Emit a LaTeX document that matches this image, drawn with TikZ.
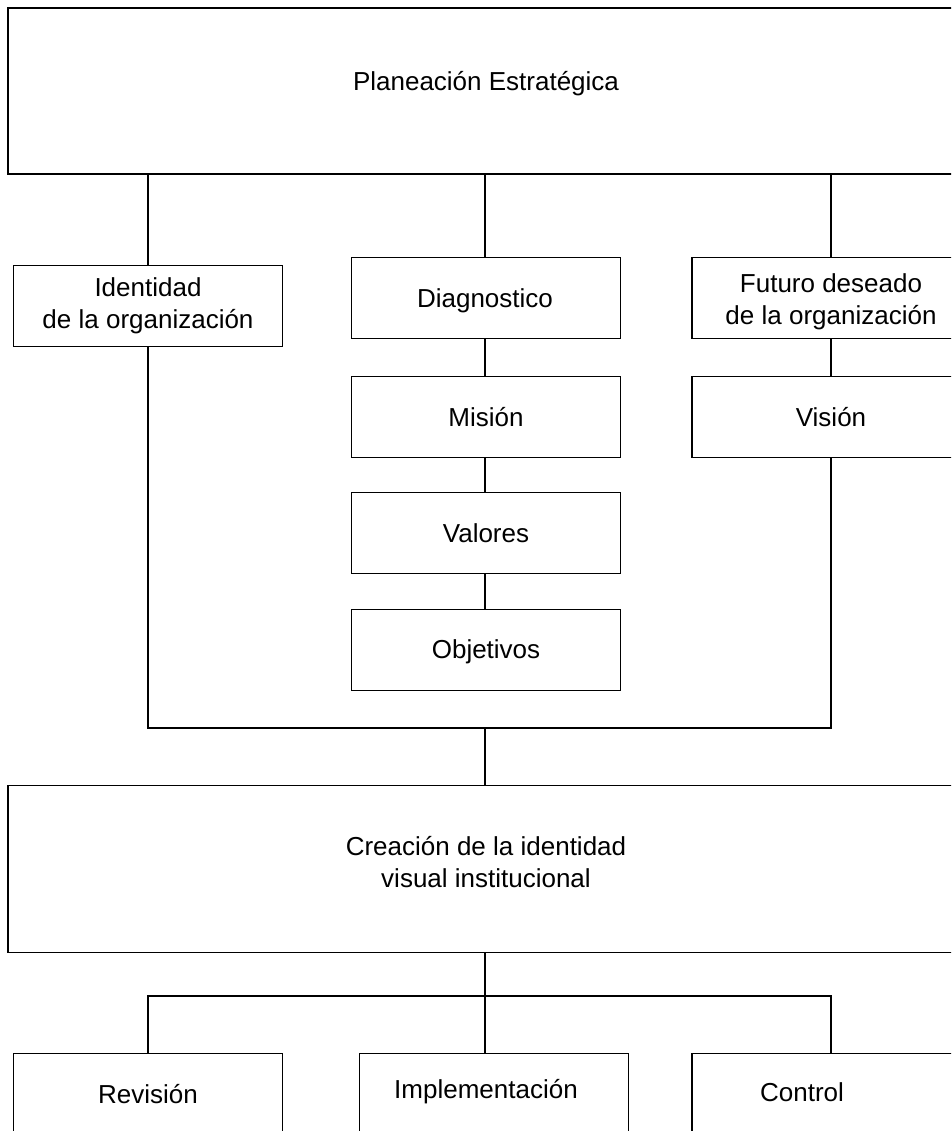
\documentclass[tikz,border=0pt]{standalone}
\usepackage{fontspec}
\setmainfont{Liberation Sans}
\usepackage{xcolor}
\tikzset{
  txt/.style = {align = center, inner sep = 0pt, font = \fontsize{26}{32}\selectfont},
  box/.style = {txt, draw, rectangle, line width = 1.2pt, minimum width = 269pt, minimum height = 81pt},
  widebox/.style = {box, minimum width = 278pt},
  bigbox/.style = {box, minimum width = 958pt, minimum height = 166pt},
  link/.style = {line width = 1.2pt}
}

\begin{document}
\begin{tikzpicture}[x = 1pt, y = -1pt]
        \useasboundingbox (0, 0) rectangle (951, 1131);
        \clip (0, 0) rectangle (951, 1131);

        % Nodes
        \node [bigbox] (plan) at (487, 91) {};
        \node [box] (identidad) at (148, 306) {Identidad\\de la organización};
        \node [box] (diagnostico) at (486, 298) {};
        \node [widebox] (futuro) at (831, 298) {};
        \node [box] (mision) at (486, 417) {Misión};
        \node [widebox] (vision) at (831, 417) {Visión};
        \node [box] (valores) at (486, 533) {Valores};
        \node [box] (objetivos) at (486, 650) {};
        \node [bigbox, minimum height = 167pt] (creacion) at (487, 869) {};
        \node [box] (revision) at (148, 1094) {Revisión};
        \node [box] (implementacion) at (494, 1094) {};
        \node [widebox] (control) at (831, 1094) {};

        % Texts off the centre of their box
        \node [txt] (plantxt) at (486, 84) {Planeación Estratégica};
        \node [txt] (diagnosticotxt) at (485, 301) {Diagnostico};
        \node [txt] (futurotxt) at (831, 302) {Futuro deseado\\de la organización};
        \node [txt] (objetivostxt) at (486, 652) {Objetivos};
        \node [txt] (creaciontxt) at (486, 862) {Creación de la identidad\\visual institucional};
        \node [txt] (implementaciontxt) at (486, 1092) {Implementación};
        \node [txt] (controltxt) at (802, 1092) {Control};

        % Joints
        \coordinate (join) at (485, 728);
        \coordinate (split) at (485, 996);

        % Draw the links
        \draw [link] (plan.south -| identidad.north) -- (identidad.north);
        \draw [link] (plan.south -| join) -- (join |- diagnostico.north);
        \draw [link] (plan.south -| futuro.north) -- (futuro.north);
        \draw [link] (join |- diagnostico.south) -- (join |- mision.north);
        \draw [link] (join |- mision.south) -- (join |- valores.north);
        \draw [link] (join |- valores.south) -- (join |- objetivos.north);
        \draw [link] (futuro.south) -- (vision.north);
        \draw [link] (identidad.south) |- (join) -| (vision.south);
        \draw [link] (join) -- (join |- creacion.north);
        \draw [link] (split |- creacion.south) -- (split |- implementacion.north);
        \draw [link] (revision.north) |- (split) -| (control.north);

    \end{tikzpicture}
\end{document}
